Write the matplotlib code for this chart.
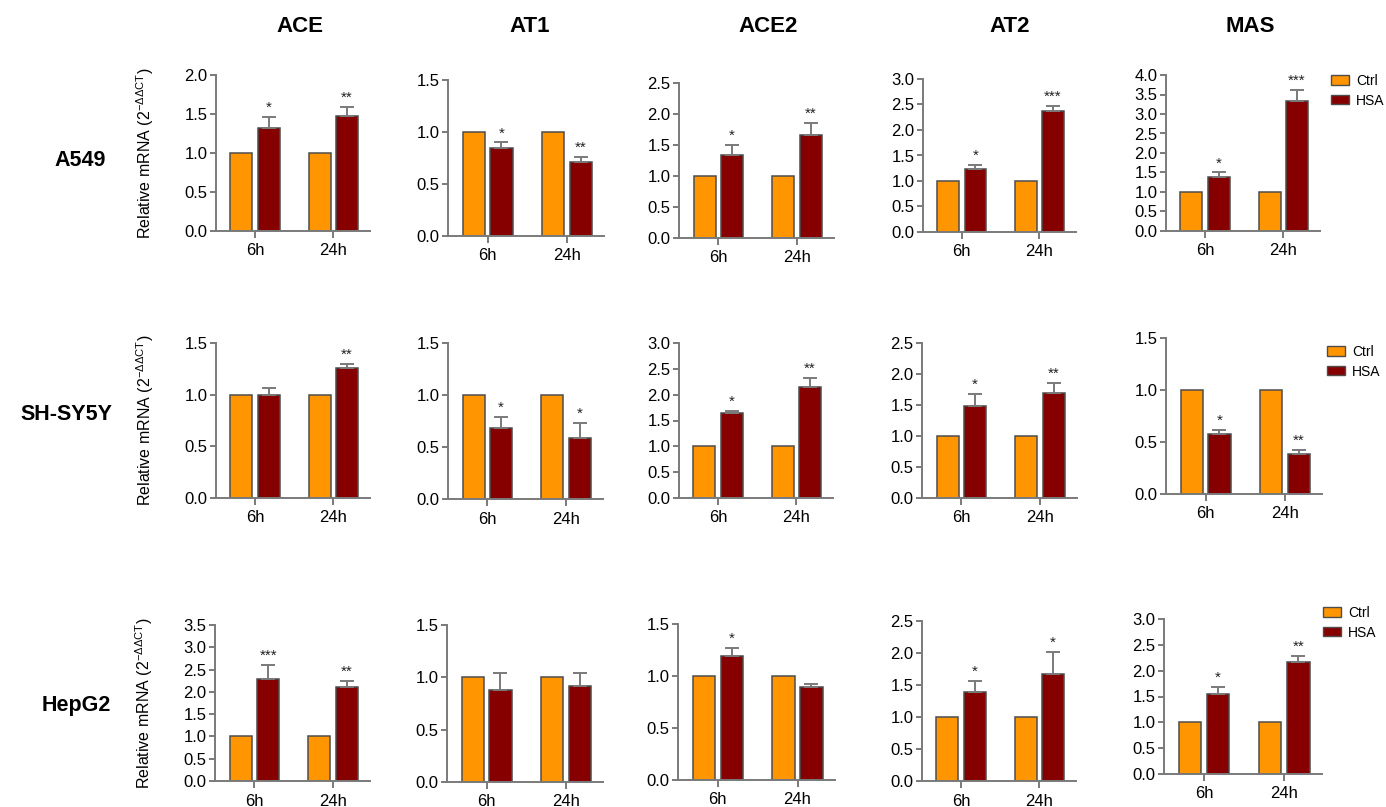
"""
RAS gene expression after HSA treatment - 3 cell lines x 5 genes
"""

import matplotlib
matplotlib.use('Agg')  # no display
import matplotlib.pyplot as plt
import numpy as np
from matplotlib.patches import Patch

plt.rcParams['font.family'] = ['Liberation Sans', 'DejaVu Sans']
plt.rcParams['mathtext.fontset'] = 'custom'
plt.rcParams['mathtext.rm'] = 'Liberation Sans'

# ---- data ----
cell_lines = ['A549', 'SH-SY5Y', 'HepG2']
genes = ['ACE', 'AT1', 'ACE2', 'AT2', 'MAS']
timepoints = ['6h', '24h']
ctrl_mean = [1.0, 1.0]

a549_hsa = [[1.32, 1.47], [0.85, 0.71], [1.34, 1.66], [1.23, 2.37], [1.39, 3.34]]
a549_err = [[0.14, 0.12], [0.05, 0.05], [0.16, 0.20], [0.09, 0.11], [0.11, 0.27]]
a549_sig = [['*', '**'], ['*', '**'], ['*', '**'], ['*', '***'], ['*', '***']]
a549_ymax = [2.0, 1.5, 2.5, 3.0, 4.0]

shsy5y_hsa = [[1.00, 1.26], [0.68, 0.59], [1.64, 2.15], [1.48, 1.69], [0.58, 0.38]]
shsy5y_err = [[0.06, 0.04], [0.11, 0.14], [0.05, 0.17], [0.20, 0.16], [0.04, 0.045]]
shsy5y_sig = [['', '**'], ['*', '*'], ['*', '**'], ['*', '**'], ['*', '**']]
shsy5y_ymax = [1.5, 1.5, 3.0, 2.5, 1.5]

hepg2_hsa = [[2.28, 2.10], [0.88, 0.92], [1.19, 0.89], [1.39, 1.67], [1.55, 2.16]]
hepg2_err = [[0.32, 0.15], [0.16, 0.12], [0.08, 0.03], [0.17, 0.35], [0.13, 0.12]]
hepg2_sig = [['***', '**'], ['', ''], ['*', ''], ['*', '*'], ['*', '**']]
hepg2_ymax = [3.5, 1.5, 1.5, 2.5, 3.0]

rows = [
    (a549_hsa, a549_err, a549_sig, a549_ymax),
    (shsy5y_hsa, shsy5y_err, shsy5y_sig, shsy5y_ymax),
    (hepg2_hsa, hepg2_err, hepg2_sig, hepg2_ymax),
]

# ---- layout in pixels: (left, top, right, bottom) of each plot area ----
W, H = 1386, 807
boxes = [
    [(216, 75, 370, 231), (448, 80, 604, 236), (679, 83, 834, 238),
     (923, 79, 1076, 232), (1166, 75, 1320, 231)],
    [(216, 343, 370, 498), (448, 343, 603, 499), (679, 343, 833, 498),
     (922, 343, 1077, 498), (1166, 338, 1322, 494)],
    [(215, 625, 370, 781), (447, 625, 603, 782), (678, 624, 835, 780),
     (922, 621, 1076, 781), (1164, 619, 1322, 774)],
]
title_x = [300, 530, 768, 1010, 1250]
row_label_pos = [(80, 160), (66, 415), (76, 706)]
legend_pos = [(1331, 74), (1327, 345), (1323, 606)]

ORANGE = '#FF9500'
RED = '#870000'
EDGE = '#4d4d4d'
AXIS = '#7a7a7a'

fig = plt.figure(figsize=(W / 100, H / 100), dpi=100)

x = np.arange(len(timepoints))
width = 0.28
off = 0.175

for r, (hsa, err, sig, ymax) in enumerate(rows):
    for c in range(len(genes)):
        left, top, right, bottom = boxes[r][c]
        ax = fig.add_axes([left / W, 1 - bottom / H, (right - left) / W, (bottom - top) / H])

        ax.bar(x - off, ctrl_mean, width, color=ORANGE, edgecolor=EDGE, linewidth=1.1, zorder=2)
        ax.bar(x + off, hsa[c], width, color=RED, edgecolor=EDGE, linewidth=1.1, zorder=2)
        ax.errorbar(x + off, hsa[c], yerr=[np.zeros(len(x)), err[c]], fmt='none',
                    ecolor=AXIS, elinewidth=1.4, capsize=5, capthick=1.4, zorder=3)

        for i in range(len(x)):
            if sig[c][i]:
                ax.annotate(sig[c][i], (x[i] + off, hsa[c][i] + err[c][i]),
                            xytext=(0, 1.5), textcoords='offset points',
                            ha='center', va='bottom', fontsize=11, color='#222222',
                            annotation_clip=False)

        ax.set_xlim(-0.5, 1.47)
        ax.set_ylim(0, ymax[c])
        ax.set_yticks(np.arange(0, ymax[c] + 0.01, 0.5))
        ax.set_yticklabels([f'{v:.1f}' for v in np.arange(0, ymax[c] + 0.01, 0.5)])
        ax.set_xticks(x)
        ax.set_xticklabels(timepoints)

        for s in ['top', 'right']:
            ax.spines[s].set_visible(False)
        for s in ['left', 'bottom']:
            ax.spines[s].set_color(AXIS)
            ax.spines[s].set_linewidth(1.4)
        ax.tick_params(axis='y', direction='out', length=4, width=1.4, color=AXIS,
                       labelsize=12, pad=2)
        ax.tick_params(axis='x', direction='out', length=5, width=1.4, color=AXIS,
                       labelsize=12, pad=4)

        if c == 0:
            ax.set_ylabel(r'Relative mRNA (2$^{\mathregular{-ΔΔCT}}$)', fontsize=11.5)
            ax.yaxis.set_label_coords(-0.39, 0.5)

        if c == len(genes) - 1:
            handles = [Patch(facecolor=ORANGE, edgecolor=EDGE, label='Ctrl'),
                       Patch(facecolor=RED, edgecolor=EDGE, label='HSA')]
            lx, ly = legend_pos[r]
            ax.legend(handles=handles, loc='upper left',
                      bbox_to_anchor=(lx / W, 1 - ly / H), bbox_transform=fig.transFigure,
                      frameon=False, borderpad=0, borderaxespad=0, fontsize=10,
                      handlelength=1.3, handleheight=0.65, handletextpad=0.5,
                      labelspacing=0.4)

for c, g in enumerate(genes):
    fig.text(title_x[c] / W, 1 - 27 / H, g, ha='center', va='center',
             fontsize=16, fontweight='bold')

for r, name in enumerate(cell_lines):
    px, py = row_label_pos[r]
    fig.text(px / W, 1 - py / H, name, ha='center', va='center',
             fontsize=15.5, fontweight='bold')

fig.savefig('out.png', dpi=100)
